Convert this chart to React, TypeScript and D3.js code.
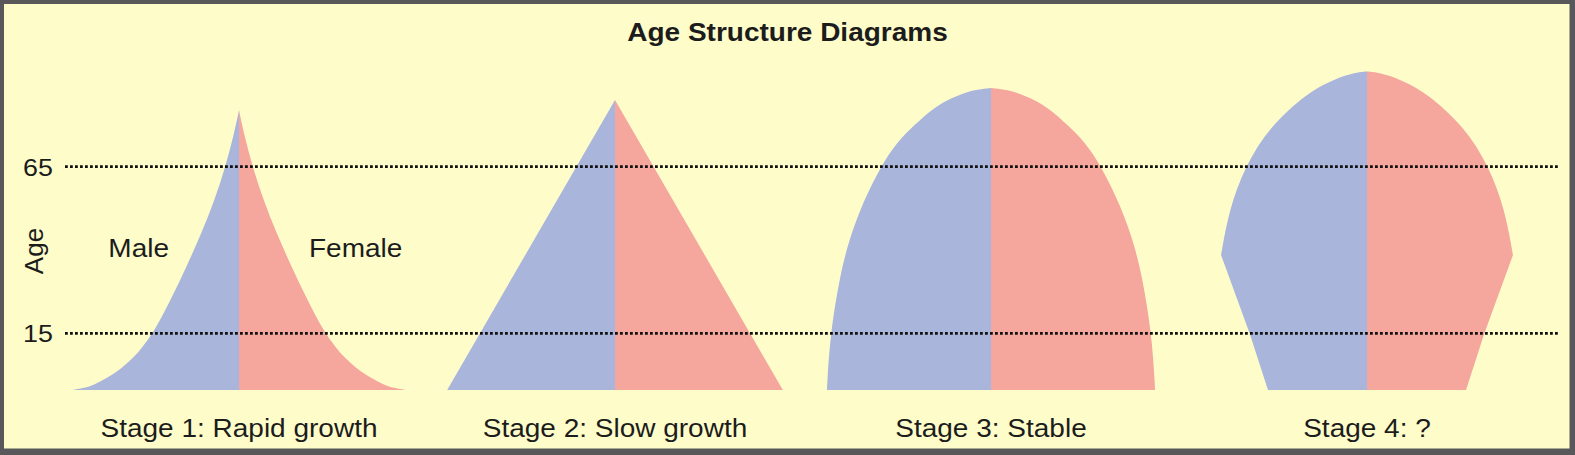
import React from "react";
import * as d3 from "d3";

// ---- data ----
const TITLE = "Age Structure Diagrams";
const STAGE_LABELS = ["Stage 1: Rapid growth", "Stage 2: Slow growth", "Stage 3: Stable", "Stage 4: ?"];
const AGE_TICKS = [15, 65];
const AXIS_LABEL = "Age";
const SEX_LABELS = ["Male", "Female"];

// [age, share of population] for one half (male and female are mirror images)
const stage1Profile: [number, number][] = [
  [-2, 100], [-1.5, 94], [-1, 89], [2, 77], [7, 63.7], [15, 51.2], [25, 41], [35, 31.4],
  [45, 22.5], [55, 14.6], [65, 8.1], [75, 2.9], [82, 0],
];
const stage2Profile: [number, number][] = [
  [-2, 100.5], [85, 0],
];
const stage3Profile: [number, number][] = [
  [-2, 98.2], [-1, 98.2], [15, 96.2], [32.5, 90.4], [42.5, 85.2], [52.6, 78.2], [65, 66.2],
  [72.5, 56], [77.5, 46], [82.5, 34.5], [85, 26.5], [87.3, 15.5], [88.2, 8], [88.6, 0],
];
const stage4Profile: [number, number][] = [
  [-2, 59.3], [15, 70.3], [38.5, 87.4], [52, 82.6], [65, 73.2], [77, 58.2],
  [87, 36.2], [91, 20.5], [92.5, 12.5], [93.3, 6], [93.6, 0],
];
const PROFILES = [stage1Profile, stage2Profile, stage3Profile, stage4Profile];

// ---- layout / style ----
const W = 1575;
const H = 455;
const BG = "#FEFDCA";
const BORDER = "#58585A";
const MALE = "#A9B5DB";
const FEMALE = "#F5A69D";
const INK = "#1c1c1c";
const FONT = "'Liberation Sans', Arial, Helvetica, sans-serif";
const STRETCH = 1.12;

export default function App() {
  const y = d3.scaleLinear().domain([15, 65]).range([333.3, 166.7]);
  const share = d3.scaleLinear().domain([0, 100]).range([0, 167]);
  const cx = d3.scalePoint<string>().domain(STAGE_LABELS).range([239, 1367]);
  const curve = d3.line<[number, number]>().curve(d3.curveBasis);

  const halfPath = (profile: [number, number][], c: number, side: number) => {
    const pts: [number, number][] = profile.map(([a, s]) => [c + side * share(s), y(a)]);
    let imax = 0;
    profile.forEach((p, i) => { if (p[1] > profile[imax][1]) imax = i; });
    const lower = pts.slice(0, imax + 1);
    const upper = pts.slice(imax);
    const yBase = pts[0][1];
    const yTop = pts[pts.length - 1][1];
    let d = `M${c},${yBase}`;
    lower.forEach((p) => { d += `L${p[0]},${p[1]}`; });
    const u = curve(upper) || "";
    d += u.replace(/^M/, "L");
    d += `L${c},${yTop}Z`;
    return d;
  };

  const txt = (x: number, yy: number, s: string, opts: any = {}) => (
    <text
      key={s + x}
      transform={`translate(${x},${yy}) scale(${STRETCH},1)`}
      textAnchor={opts.anchor || "middle"}
      fontSize={opts.size || 25}
      fontWeight={opts.weight || "normal"}
      fontFamily={FONT}
      fill={INK}
    >
      {s}
    </text>
  );

  const c1 = cx(STAGE_LABELS[0])!;

  return (
    <svg width={W} height={H} style={{ position: "absolute", left: 0, top: 0, display: "block" }}>
      <rect x={0} y={0} width={W} height={H} fill={BORDER} />
      <rect x={4} y={4} width={1565.5} height={444.5} fill={BG} />

      {txt(W / 2, 40.7, TITLE, { weight: "bold" })}

      {PROFILES.map((p, i) => {
        const c = cx(STAGE_LABELS[i])!;
        return (
          <g key={i}>
            <path d={halfPath(p, c, -1)} fill={MALE} />
            <path d={halfPath(p, c, 1)} fill={FEMALE} />
          </g>
        );
      })}

      {AGE_TICKS.map((t) => (
        <g key={t}>
          <line
            x1={65}
            x2={1558}
            y1={y(t)}
            y2={y(t)}
            stroke="#111"
            strokeWidth={2.8}
            strokeDasharray="2.8 2.2"
          />
          {txt(53, y(t) + 9, String(t), { anchor: "end", size: 24 })}
        </g>
      ))}

      <text
        transform={`translate(43,251) rotate(-90)`}
        textAnchor="middle"
        fontSize={26}
        fontFamily={FONT}
        fill={INK}
      >
        {AXIS_LABEL}
      </text>

      {txt(c1 - 70, 257.3, SEX_LABELS[0], { anchor: "end" })}
      {txt(c1 + 70, 257.3, SEX_LABELS[1], { anchor: "start" })}

      {STAGE_LABELS.map((s) => txt(cx(s)!, 436.7, s))}
    </svg>
  );
}
